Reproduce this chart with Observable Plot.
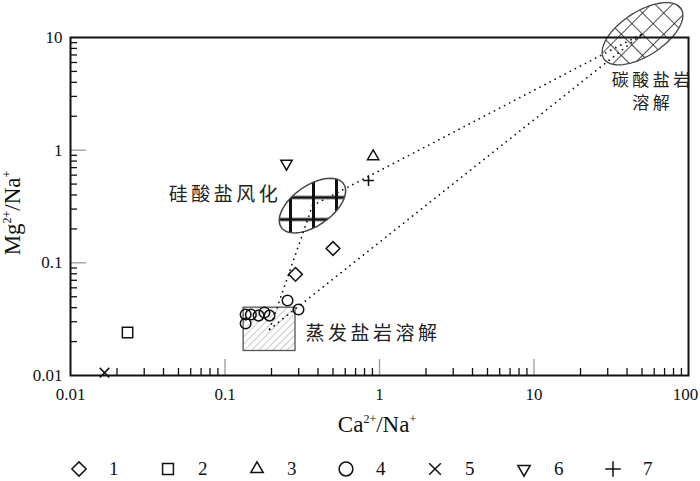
<!DOCTYPE html>
<html><head><meta charset="utf-8">
<script src="https://cdn.jsdelivr.net/npm/d3@7"></script>
<script src="https://cdn.jsdelivr.net/npm/@observablehq/plot@0.6"></script>
<style>
html,body{margin:0;padding:0;background:#fff;}
body{width:700px;height:481px;overflow:hidden;position:relative;font-family:"Liberation Serif",serif;}
#legend{position:absolute;left:0;top:456px;width:700px;height:26px;}
.item{position:absolute;top:0;height:26px;display:flex;align-items:center;}
.item span{font-family:"Liberation Serif",serif;font-size:19px;color:#111;margin-left:20px;}
</style></head>
<body><div id="chart"></div><div id="legend"></div>
<script>
// ---- data ----
const s1X = [0.50, 0.286];            const s1Y = [0.134, 0.079];   // 1 diamond
const s2X = [0.0234];                 const s2Y = [0.0241];         // 2 square
const s3X = [0.91];                   const s3Y = [0.88];           // 3 triangle up
const s4X = [0.254, 0.299, 0.136, 0.147, 0.136, 0.165, 0.180, 0.194];
const s4Y = [0.0463, 0.0385, 0.0348, 0.0348, 0.0289, 0.0340, 0.0362, 0.0340]; // 4 circle
const s5X = [0.0166];                 const s5Y = [0.0106];         // 5 times
const s6X = [0.250];                  const s6Y = [0.76];           // 6 triangle down
const s7X = [0.849];                  const s7Y = [0.537];          // 7 plus
const legendLabels = ["1","2","3","4","5","6","7"];

// end-member regions
const evapX = [0.132, 0.286];  const evapY = [0.0165, 0.040];   // rectangle
const silCenter = [0.368, 0.322];  const silAxes = [38, 20, 35];  // a, b (px), rotation (deg)
const carbCenter = [50.4, 10.8];   const carbAxes = [46, 22, 33];
const regionNames = ["硅酸盐风化", "碳酸盐岩", "溶解", "蒸发盐岩溶解"];
const regionLabelX = [0.221, 57.0, 57.0, 0.332];
const regionLabelY = [0.400, 4.15, 2.60, 0.0236];

// axes
const xTickValues = [0.01, 0.1, 1, 10, 100];
const xTickLabels = ["0.01", "0.1", "1", "10", "100"];
const yTickValues = [0.01, 0.1, 1, 10];
const yTickLabels = ["0.01", "0.1", "1", "10"];
const minorMult = [2,3,4,5,6,7,8,9];

// ---- layout ----
const W = 700, H = 440, ML = 70, MR = 12, MT = 37, MB = 65;
const innerW = W - ML - MR, innerH = H - MT - MB;
const pxDecX = innerW / 4, pxDecY = innerH / 3;

const xMinor = [], yMinor = [];
for (const d of [0.01, 0.1, 1, 10]) for (const m of minorMult) xMinor.push(d * m);
for (const d of [0.01, 0.1, 1]) for (const m of minorMult) yMinor.push(d * m);

function ellipse(c, ax) {
  const [a, b, deg] = ax, th = deg * Math.PI / 180, pts = [];
  for (let i = 0; i <= 90; i++) {
    const t = 2 * Math.PI * i / 90;
    const ux = a * Math.cos(t) * Math.cos(th) - b * Math.sin(t) * Math.sin(th);
    const uy = a * Math.cos(t) * Math.sin(th) + b * Math.sin(t) * Math.cos(th);
    pts.push({x: c[0] * Math.pow(10, ux / pxDecX), y: c[1] * Math.pow(10, uy / pxDecY)});
  }
  return pts;
}
const evapCenter = [Math.sqrt(evapX[0]*evapX[1]), Math.sqrt(evapY[0]*evapY[1])];
const mixLines = [
  {x1: evapCenter[0], y1: evapCenter[1], x2: silCenter[0], y2: silCenter[1]},
  {x1: evapCenter[0], y1: evapCenter[1], x2: carbCenter[0], y2: carbCenter[1]},
  {x1: silCenter[0], y1: silCenter[1], x2: carbCenter[0], y2: carbCenter[1]}
];
const pts = (X, Y) => X.map((x, i) => ({x, y: Y[i]}));
const labels = regionNames.map((t, i) => ({t, x: regionLabelX[i], y: regionLabelY[i]}));

const cjk = "'Noto Sans CJK SC', sans-serif";
const dotOpts = {x: "x", y: "y", stroke: "#111", strokeWidth: 1.5, fill: "none"};
const txtOpts = {x: "x", y: "y", text: "t", fontFamily: cjk, fontSize: 19, fill: "#222"};

const plot = Plot.plot({
  width: W, height: H, marginLeft: ML, marginRight: MR, marginTop: MT, marginBottom: MB,
  style: {fontFamily: "Liberation Serif, serif", fontSize: "18px", color: "#111", background: "#fff", overflow: "visible"},
  x: {type: "log", domain: [0.01, 100]},
  y: {type: "log", domain: [0.01, 10]},
  marks: [
    Plot.rect([{}], {x1: () => evapX[0], x2: () => evapX[1], y1: () => evapY[0], y2: () => evapY[1],
      fill: "url(#hatchEvap)", stroke: "#555", strokeWidth: 1.3}),
    Plot.line(ellipse(silCenter, silAxes), {x: "x", y: "y", fill: "url(#gridSil)", stroke: "#444", strokeWidth: 1.5}),
    Plot.line(ellipse(carbCenter, carbAxes), {x: "x", y: "y", fill: "url(#gridCarb)", stroke: "#444", strokeWidth: 1.3}),
    Plot.link(mixLines, {x1: "x1", y1: "y1", x2: "x2", y2: "y2", stroke: "#111", strokeWidth: 1.7,
      strokeDasharray: "0.1,5.6", strokeLinecap: "round"}),
    Plot.ruleX(xMinor, {x: d => d, insetTop: innerH - 7, stroke: "#111", strokeWidth: 1.3}),
    Plot.ruleX([0.1, 1, 10], {x: d => d, insetTop: innerH - 16, stroke: "#999", strokeWidth: 1.3}),
    Plot.ruleY(yMinor, {y: d => d, insetRight: innerW - 7, stroke: "#111", strokeWidth: 1.3}),
    Plot.ruleY([0.1, 1], {y: d => d, insetRight: innerW - 16, stroke: "#999", strokeWidth: 1.3}),
    Plot.frame({stroke: "#111", strokeWidth: 2}),
    Plot.axisX({ticks: xTickValues, tickFormat: d => xTickLabels[xTickValues.indexOf(d)], tickSize: 0, tickPadding: 12, label: null, fontSize: 17}),
    Plot.axisY({ticks: yTickValues, tickFormat: d => yTickLabels[yTickValues.indexOf(d)], tickSize: 0, tickPadding: 8, label: null, fontSize: 17}),
    Plot.dot(pts(s1X, s1Y), {...dotOpts, symbol: "diamond2", r: 6.2}),
    Plot.dot(pts(s2X, s2Y), {...dotOpts, symbol: "square2", r: 6.6}),
    Plot.dot(pts(s3X, s3Y), {...dotOpts, symbol: "triangle2", r: 5.4}),
    Plot.dot(pts(s4X, s4Y), {...dotOpts, symbol: "circle", r: 5.3}),
    Plot.dot(pts(s5X, s5Y), {...dotOpts, symbol: "times", r: 4.4}),
    Plot.dot(pts(s6X, s6Y), {...dotOpts, symbol: "triangle2", r: 5.4, rotate: 180}),
    Plot.dot(pts(s7X, s7Y), {...dotOpts, symbol: "plus", r: 3.6}),
    Plot.text(labels.slice(0, 1), {...txtOpts, textAnchor: "end", dx: 3}),
    Plot.text(labels.slice(1, 3), {...txtOpts, textAnchor: "middle", dx: 2, fontSize: 17}),
    Plot.text(labels.slice(3, 4), {...txtOpts, textAnchor: "start"})
  ]
});
document.getElementById("chart").appendChild(plot);

const svg = d3.select(plot);
svg.selectAll("[font-family*='CJK']").attr("letter-spacing", "3.5px").style("letter-spacing", "3.5px");
svg.selectAll("[aria-label='x-axis tick label'] text").filter(function(){ return this.textContent === "100"; })
  .attr("dx", -3);
const defs = svg.insert("defs", ":first-child");
const pe = defs.append("pattern").attr("id", "hatchEvap").attr("patternUnits", "userSpaceOnUse")
  .attr("width", 5).attr("height", 5).attr("patternTransform", "rotate(45)");
pe.append("line").attr("x1", 0).attr("y1", 0).attr("x2", 0).attr("y2", 5).attr("stroke", "#777").attr("stroke-width", 0.8);
const ps = defs.append("pattern").attr("id", "gridSil").attr("patternUnits", "userSpaceOnUse")
  .attr("width", 23).attr("height", 22).attr("x", 278.5).attr("y", 186);
ps.append("rect").attr("x", 10).attr("y", 0).attr("width", 3).attr("height", 22).attr("fill", "#111");
ps.append("rect").attr("x", 0).attr("y", 9.5).attr("width", 23).attr("height", 3).attr("fill", "#111");
const pc = defs.append("pattern").attr("id", "gridCarb").attr("patternUnits", "userSpaceOnUse")
  .attr("width", 15).attr("height", 15).attr("patternTransform", "translate(642,33) rotate(45)");
pc.append("line").attr("x1", 0).attr("y1", 0).attr("x2", 15).attr("y2", 0).attr("stroke", "#111").attr("stroke-width", 1.5);
pc.append("line").attr("x1", 0).attr("y1", 0).attr("x2", 0).attr("y2", 15).attr("stroke", "#111").attr("stroke-width", 1.5);

function axisTitle(base, transform) {
  const t = svg.append("text").attr("transform", transform)
    .attr("text-anchor", "middle").attr("font-family", "Liberation Serif, serif").attr("font-size", 23).attr("fill", "#111");
  t.append("tspan").text(base);
  t.append("tspan").text("2+").attr("font-size", 12).attr("dy", -9);
  t.append("tspan").text("/Na").attr("dy", 9);
  t.append("tspan").text("+").attr("font-size", 12).attr("dy", -9);
}
axisTitle("Mg", `translate(20,${MT + innerH/2 + 7}) rotate(-90)`);
axisTitle("Ca", `translate(${ML + innerW/2 - 2},432)`);

const legSymbols = [
  {s: d3.symbolDiamond2, size: 130, rot: 0}, {s: d3.symbolSquare2, size: 150, rot: 0},
  {s: d3.symbolTriangle2, size: 110, rot: 0}, {s: d3.symbolCircle, size: 150, rot: 0},
  {s: d3.symbolTimes, size: 90, rot: 0}, {s: d3.symbolTriangle2, size: 110, rot: 180},
  {s: d3.symbolPlus, size: 80, rot: 0}
];
const leg = d3.select("#legend");
legendLabels.forEach((lab, i) => {
  const item = leg.append("div").attr("class", "item").style("left", (69 + i * 89) + "px");
  const s = item.append("svg").attr("width", 20).attr("height", 22);
  s.append("path").attr("d", d3.symbol(legSymbols[i].s, legSymbols[i].size)())
    .attr("transform", `translate(10,11) rotate(${legSymbols[i].rot})`)
    .attr("fill", "none").attr("stroke", "#111").attr("stroke-width", 1.5);
  item.append("span").text(lab);
});
</script></body></html>
